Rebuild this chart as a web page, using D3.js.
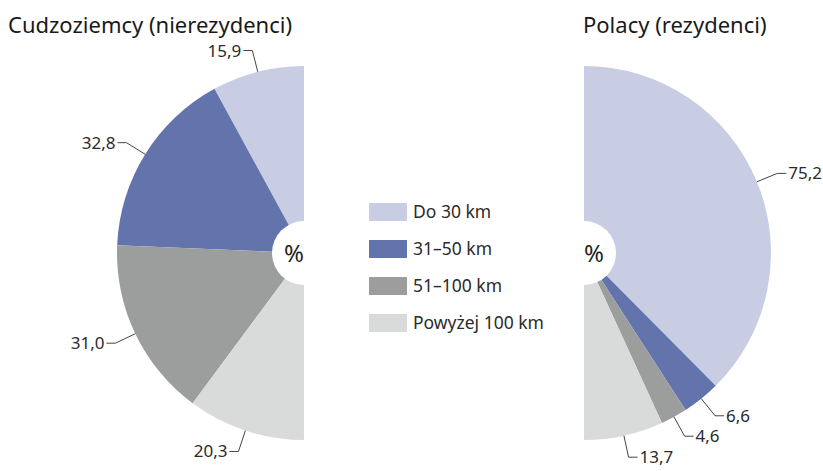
<!DOCTYPE html>
<html>
<head>
<meta charset="utf-8">
<script src="https://cdn.jsdelivr.net/npm/d3@7"></script>
<style>
  body { margin: 0; background: #fff; }
  svg { display: block; font-family: "Noto Sans", "Open Sans", sans-serif; }
</style>
</head>
<body>
<svg id="chart" width="823" height="471"></svg>
<script>
// categories, in drawing order (from the top of each half-pie)
var categories = ["Do 30 km", "31–50 km", "51–100 km", "Powyżej 100 km"];
var colors = ["#c9cde3", "#6373ac", "#9c9d9d", "#d9dada"];

// shares in %
var foreigners = [15.9, 32.8, 31.0, 20.3];
var residents = [75.2, 6.6, 4.6, 13.7];

var titles = ["Cudzoziemcy (nierezydenci)", "Polacy (rezydenci)"];

var svg = d3.select("#chart");
var radius = 187;
var fmt = function(v){ return d3.format(".1f")(v).replace(".", ","); };

// side = -1 draws the left half, +1 the right half
function drawHalfPie(values, cx, cy, side){
  var pie = d3.pie().sort(null).value(function(d){ return d; })
    .startAngle(0).endAngle(side * Math.PI);
  var arc = d3.arc().innerRadius(0).outerRadius(radius);
  var arcs = pie(values);

  var g = svg.append("g").attr("transform", "translate(" + cx + "," + cy + ")");

  g.selectAll("path.slice")
    .data(arcs)
    .enter().append("path")
    .attr("class", "slice")
    .attr("d", arc)
    .attr("fill", function(d, i){ return colors[i]; });

  // leader lines + value labels
  arcs.forEach(function(d){
    var a = (d.startAngle + d.endAngle) / 2;
    var p0 = [Math.sin(a) * radius, -Math.cos(a) * radius];
    var r1 = radius + 22;
    var p1 = [Math.sin(a) * r1, -Math.cos(a) * r1];
    var p2 = [p1[0] + side * 9, p1[1]];
    g.append("polyline")
      .attr("points", [p0, p1, p2].map(function(p){ return p.join(","); }).join(" "))
      .attr("fill", "none")
      .attr("stroke", "#444")
      .attr("stroke-width", 1);
    g.append("text")
      .attr("x", p2[0] + side * 2)
      .attr("y", p2[1] + 6)
      .attr("text-anchor", side < 0 ? "end" : "start")
      .attr("font-size", 17)
      .attr("fill", "#2b2b2b")
      .text(fmt(d.data));
  });

  // white hub with the unit
  g.append("circle").attr("r", 32).attr("fill", "#fff");
  g.append("text")
    .attr("x", side * 10)
    .attr("y", 9)
    .attr("text-anchor", "middle")
    .attr("font-size", 24)
    .attr("fill", "#222")
    .text("%");
}

drawHalfPie(foreigners, 304, 253, -1);
drawHalfPie(residents, 584, 253, 1);

// titles
svg.append("text").attr("x", 8).attr("y", 33)
  .attr("font-size", 22).attr("fill", "#1a1a1a").text(titles[0]);
svg.append("text").attr("x", 583).attr("y", 33)
  .attr("font-size", 22).attr("fill", "#1a1a1a").text(titles[1]);

// legend
var legend = svg.append("g").attr("transform", "translate(369,203)");
var items = legend.selectAll("g.item")
  .data(categories)
  .enter().append("g")
  .attr("class", "item")
  .attr("transform", function(d, i){ return "translate(0," + (i * 37) + ")"; });
items.append("rect")
  .attr("width", 38).attr("height", 18)
  .attr("fill", function(d, i){ return colors[i]; });
items.append("text")
  .attr("x", 44).attr("y", 15)
  .attr("font-size", 17.5).attr("fill", "#2b2b2b")
  .text(function(d){ return d; });
</script>
</body>
</html>
